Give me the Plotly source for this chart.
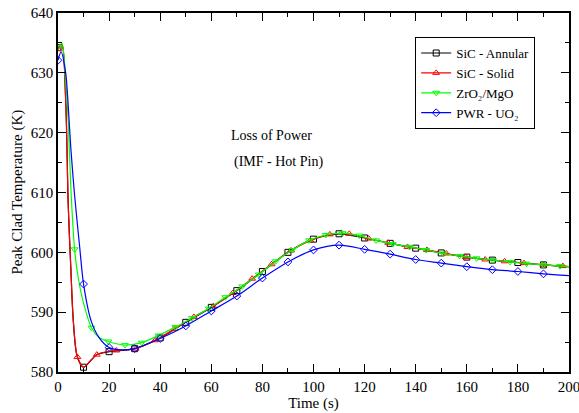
import plotly.graph_objects as go

# SiC - Annular (black, squares every 10 s)
t_ann = [0, 1.5, 3, 4, 5, 6, 7.5, 10, 13, 15, 20, 25, 30, 40, 50, 60, 70, 80, 90, 100,
         110, 120, 130, 140, 150, 160, 170, 180, 190, 200]
y_ann = [634.2, 634.8, 625.5, 608.0, 597.5, 588.5, 582.6, 580.8, 582.0, 582.9, 583.4, 583.6,
         583.9, 585.7, 588.3, 590.8, 593.6, 596.8, 600.0, 602.2, 603.1, 602.4, 601.5, 600.7,
         599.9, 599.2, 598.7, 598.3, 597.9, 597.6]
mk_ann = [0, 10, 20, 30, 40, 50, 60, 70, 80, 90, 100, 110, 120, 130, 140, 150, 160, 170, 180, 190]

# SiC - Solid (red, triangles)
t_sol = [0, 1.5, 3, 4, 5, 6, 7.6, 10, 12.5, 15.2, 18, 22.8, 30.4, 38, 45.6, 53.2, 60.8, 68.4,
         76, 83.6, 91.2, 98.8, 106.4, 114, 121.6, 129.2, 136.8, 144.4, 152, 159.6, 167.2,
         174.8, 182.4, 190, 197.6, 200]
y_sol = [634.0, 634.8, 625.5, 608.0, 597.5, 588.5, 582.5, 580.8, 581.8, 582.9, 583.3, 583.6,
         583.9, 585.3, 587.2, 589.2, 591.0, 593.2, 595.6, 598.0, 600.3, 602.0, 603.0, 603.1,
         602.3, 601.6, 600.9, 600.4, 599.8, 599.2, 598.8, 598.5, 598.2, 597.9, 597.7, 597.6]
mk_sol = [0, 7.6, 15.2, 22.8, 30.4, 38, 45.6, 53.2, 60.8, 68.4, 76, 83.6, 91.2, 98.8, 106.4,
          114, 121.6, 129.2, 136.8, 144.4, 152, 159.6, 167.2, 174.8, 182.4, 190, 197.6]

# ZrO2/MgO (green, down triangles)
t_zr = [0, 1.5, 3, 4, 5, 6.5, 8, 10, 13.1, 16, 19.7, 26.2, 32.8, 39.3, 45.9, 52.4, 59, 65.5,
        72.1, 78.6, 85.2, 91.7, 98.3, 104.8, 111.4, 117.9, 124.5, 131, 137.6, 144.1, 150.7,
        157.2, 163.8, 170.3, 176.9, 183.4, 190, 196.5, 200]
y_zr = [634.3, 634.9, 628.5, 622.0, 611.0, 600.5, 595.5, 591.5, 587.4, 585.8, 585.1, 584.5,
        584.9, 586.1, 587.5, 589.0, 590.6, 592.5, 594.3, 596.3, 598.5, 600.4, 602.0, 602.9,
        603.2, 602.8, 602.0, 601.4, 600.9, 600.4, 599.8, 599.4, 599.0, 598.7, 598.4, 598.1,
        597.9, 597.7, 597.6]
mk_zr = [0, 6.5, 13.1, 19.7, 26.2, 32.8, 39.3, 45.9, 52.4, 59, 65.5, 72.1, 78.6, 85.2, 91.7,
         98.3, 104.8, 111.4, 117.9, 124.5, 131, 137.6, 144.1, 150.7, 157.2, 163.8, 170.3,
         176.9, 183.4, 190, 196.5]

# PWR - UO2 (blue, diamonds every 10 s)
t_pwr = [0, 1.2, 3, 4, 5, 6.5, 8.5, 10, 13, 16, 20, 25, 30, 40, 50, 60, 70, 80, 90, 100,
         110, 120, 130, 140, 150, 160, 170, 180, 190, 200]
y_pwr = [632.1, 633.5, 630.0, 624.5, 617.5, 609.5, 600.8, 594.7, 588.5, 585.8, 584.1, 583.7,
         583.9, 585.6, 587.7, 590.2, 592.7, 595.7, 598.4, 600.4, 601.2, 600.5, 599.7, 598.8,
         598.2, 597.6, 597.1, 596.8, 596.4, 596.1]
mk_pwr = [0, 10, 20, 30, 40, 50, 60, 70, 80, 90, 100, 110, 120, 130, 140, 150, 160, 170, 180, 190]

series = [
    ("SiC - Annular", t_ann, y_ann, mk_ann, "black", "square-open"),
    ("SiC - Solid", t_sol, y_sol, mk_sol, "red", "triangle-up-open"),
    ("ZrO₂/MgO", t_zr, y_zr, mk_zr, "#00ff00", "triangle-down-open"),
    ("PWR - UO₂", t_pwr, y_pwr, mk_pwr, "blue", "diamond-open"),
]

SERIF = "Liberation Serif, Times New Roman, DejaVu Serif, serif"

fig = go.Figure()
for name, t, y, mk, col, sym in series:
    # only the sampled points get a visible symbol
    sel = [i for i, v in enumerate(t) if v in mk]
    fig.add_trace(go.Scatter(
        x=t, y=y, name=name, mode="lines+markers",
        line=dict(color=col, width=1.2, shape="spline", smoothing=0.8),
        marker=dict(symbol=sym, size=6, color=col, line=dict(width=1, color=col)),
        selectedpoints=sel,
        selected=dict(marker=dict(opacity=1)),
        unselected=dict(marker=dict(opacity=0)),
    ))

axis_style = dict(
    showline=True, linecolor="black", linewidth=1.5, mirror="ticks",
    ticks="inside", ticklen=8, tickwidth=1.2, tickcolor="black",
    showgrid=False, zeroline=False, automargin=False, ticklabeloverflow="allow",
    tickfont=dict(family=SERIF, size=15, color="black"),
)

fig.update_xaxes(range=[0, 200], dtick=20,
                 minor=dict(dtick=10, ticks="inside", ticklen=4, tickcolor="black"),
                 title=dict(text="Time (s)", font=dict(family=SERIF, size=15, color="black"),
                            standoff=4),
                 **axis_style)
fig.update_yaxes(range=[580, 640], dtick=10,
                 minor=dict(dtick=5, ticks="inside", ticklen=4, tickcolor="black"),
                 **axis_style)

# y title as a rotated annotation so it can sit where the original has it
fig.add_annotation(text="Peak Clad Temperature (K)", x=-0.080, y=0.5, xref="paper", yref="paper",
                   xanchor="center", yanchor="middle", textangle=-90, showarrow=False,
                   font=dict(family=SERIF, size=15, color="black"))
fig.add_annotation(text="Loss of Power", x=0.417, y=0.66, xref="paper", yref="paper",
                   showarrow=False, font=dict(family=SERIF, size=14, color="black"))
fig.add_annotation(text="(IMF - Hot Pin)", x=0.4315, y=0.586, xref="paper", yref="paper",
                   showarrow=False, font=dict(family=SERIF, size=14, color="black"))

fig.update_layout(
    width=579, height=413,
    margin=dict(l=58, r=10, t=13, b=41),
    paper_bgcolor="white", plot_bgcolor="white",
    font=dict(family=SERIF, color="black"),
    legend=dict(x=0.699, y=0.933, xanchor="left", yanchor="top",
                bordercolor="black", borderwidth=1, bgcolor="white",
                font=dict(family=SERIF, size=13, color="black"),
                tracegroupgap=0, itemwidth=30),
    showlegend=True,
)

# the page's default body margin would shift the figure by 8px
fig.write_html("out.html", config={"displayModeBar": False},
               post_script="document.body.style.margin='0';")
